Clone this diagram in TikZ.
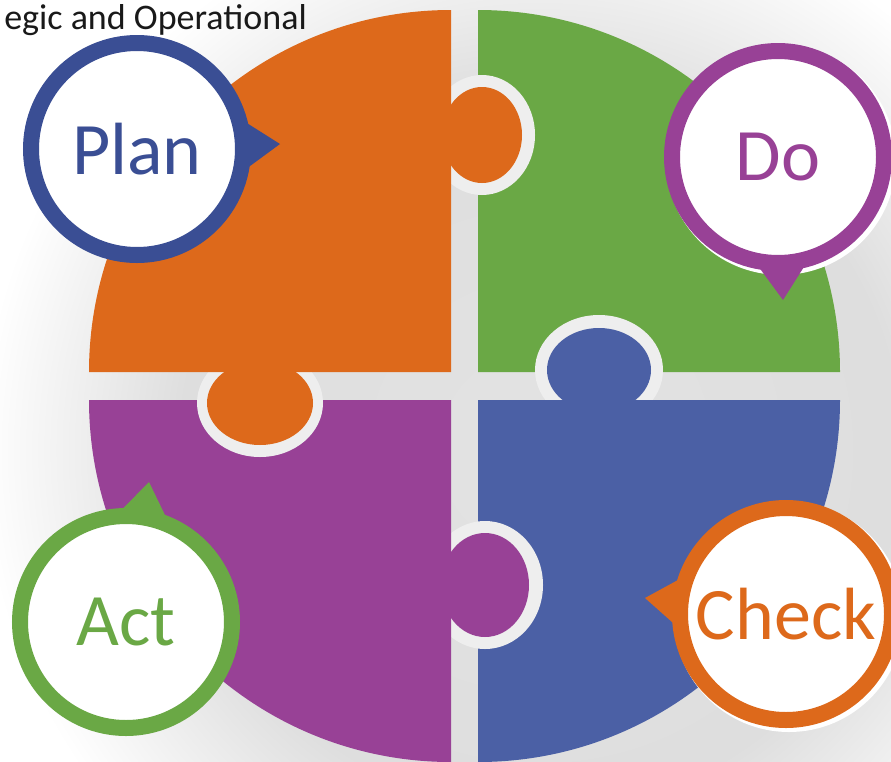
\documentclass[tikz,border=0pt]{standalone}
\usepackage{fontspec}
\setmainfont{Carlito}
\usetikzlibrary{calc}
\definecolor{pdorange}{HTML}{DD691B}
\definecolor{pdgreen}{HTML}{6AA845}
\definecolor{pdpurple}{HTML}{984196}
\definecolor{pdblue}{HTML}{4B60A5}
\definecolor{pdnavy}{HTML}{3A4E94}
\definecolor{pdedge}{HTML}{EEEEEE}
\pgfdeclareradialshading{halo}{\pgfpoint{0bp}{0bp}}{color(0bp)=(black!11); color(16bp)=(black!13); color(25bp)=(white); color(50bp)=(white)}

\begin{document}
\begin{tikzpicture}[x=1pt, y=1pt,
    bubble/.style={circle, draw=#1, line width=16pt, fill=white, text=#1,
                   minimum size=212pt, inner sep=0pt, font=\fontsize{74}{74}\selectfont},
    knobedge/.style={fill=pdedge}
  ]
  \useasboundingbox (0,0) rectangle (891,-761);
  \fill[white] (0,0) rectangle (891,-761);
  \shade[shading=halo] (540,-450) circle[radius=560];
  % green piece, with room for the two knobs that bite into it
  \fill[pdgreen] (478,-372) -- (478,-10) arc[start angle=90, end angle=0, radius=362] -- cycle;
  \fill[knobedge] (482,-135) ellipse[x radius=53, y radius=60];
  \fill[knobedge] (599,-370) ellipse[x radius=64, y radius=55];
  % blue piece
  \fill[pdblue] (478,-400) -- (840,-400) arc[start angle=0, end angle=-90, radius=362] -- cycle;
  \fill[pdblue] (599,-370) ellipse[x radius=52, y radius=42];
  \fill[knobedge] (485,-585) ellipse[x radius=58, y radius=64];
  % purple piece
  \fill[pdpurple] (451,-400) -- (451,-762) arc[start angle=270, end angle=180, radius=362] -- cycle;
  \fill[pdpurple] (485,-585) ellipse[x radius=44, y radius=52];
  \fill[knobedge] (260,-403) ellipse[x radius=63, y radius=54];
  % orange piece
  \fill[pdorange] (451,-372) -- (89,-372) arc[start angle=180, end angle=90, radius=362] -- cycle;
  \fill[pdorange] (260,-403) ellipse[x radius=53, y radius=42];
  \fill[pdorange] (482,-135) ellipse[x radius=40, y radius=48];

  \node[anchor=base east, inner sep=0pt, text=black!90,
        font=\fontsize{36}{36}\selectfont] (title) at (307,-29) {egic and Operational};

  \coordinate (cPlan)  at (137,-149);  \coordinate (tPlan)  at (280,-144);
  \coordinate (cDo)    at (778,-157);  \coordinate (tDo)    at (783,-300);
  \coordinate (cAct)   at (126,-622);  \coordinate (tAct)   at (149,-482);
  \coordinate (cCheck) at (786,-614);  \coordinate (tCheck) at (645,-598);
  \fill[white] ($(cDo)+(3,-3)$) circle[radius=115];
  \fill[white] ($(cCheck)+(3,-3)$) circle[radius=115];
  \fill[pdnavy]   ($(cPlan)!108pt!14:(tPlan)$) -- (tPlan) -- ($(cPlan)!108pt!-14:(tPlan)$) -- cycle;
  \fill[pdpurple] ($(cDo)!108pt!14:(tDo)$) -- (tDo) -- ($(cDo)!108pt!-14:(tDo)$) -- cycle;
  \fill[pdgreen]  ($(cAct)!108pt!14:(tAct)$) -- (tAct) -- ($(cAct)!108pt!-14:(tAct)$) -- cycle;
  \fill[pdorange] ($(cCheck)!108pt!14:(tCheck)$) -- (tCheck) -- ($(cCheck)!108pt!-14:(tCheck)$) -- cycle;
  \node[bubble=pdnavy]   (plan)  at (cPlan)  {Plan};
  \node[bubble=pdpurple] (do)    at (cDo)    {Do};
  \node[bubble=pdgreen]  (act)   at (cAct)   {Act};
  \node[bubble=pdorange] (check) at (cCheck) {Check};
\end{tikzpicture}
\end{document}
